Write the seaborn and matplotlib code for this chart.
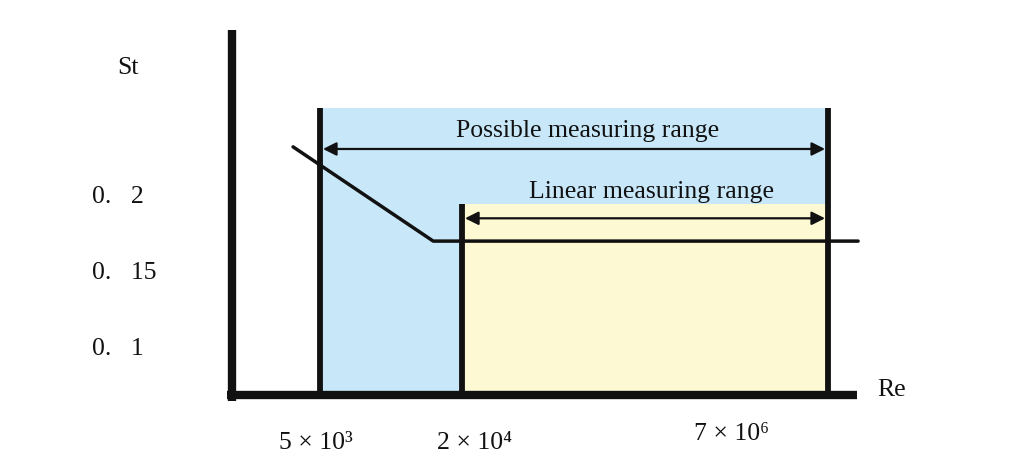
import matplotlib
matplotlib.use('Agg')
import matplotlib.pyplot as plt
import seaborn as sns
import pandas as pd

# schematic data (x in arbitrary schematic units along the Re axis)
re_labels = ['5 × 10³', '2 × 10⁴', '7 × 10⁶']
re_pos = [1.41, 3.69, 9.57]
re_label_x = [1.35, 3.90, 8.01]
re_label_y = [0.0382, 0.0382, 0.0441]

st_ticks = [0.2, 0.15, 0.1]
st_labels = ['0.   2', '0.   15', '0.   1']

curve_x = [0.98, 3.23, 10.05]
curve_y = [0.233, 0.171, 0.171]

possible_top = 0.2586
linear_top = 0.1954
possible_arrow_y = 0.2316
linear_arrow_y = 0.186
st_base = 0.0697
st_top = 0.310
re_end = 10.03

sns.set_theme(style='white')
plt.rcParams['font.family'] = ['Liberation Serif', 'DejaVu Serif']
ink = '#111111'

fig = plt.figure(figsize=(10.24, 4.74), dpi=100)
ax = fig.add_axes([0, 0, 1, 1])
ax.set_xlim(-3.724, 12.713)
ax.set_ylim(0.0178, 0.3296)
ax.axis('off')

blue = '#c8e8fa'
yellow = '#fcf9d3'

# filled ranges
ax.fill_between([re_pos[0], re_pos[2]], st_base, possible_top, color=blue, lw=0, zorder=1)
ax.fill_between([re_pos[1], re_pos[2]], st_base, linear_top, color=yellow, lw=0, zorder=2)

# range boundaries
for x, top in zip(re_pos, [possible_top, linear_top, possible_top]):
    ax.plot([x, x], [st_base, top], color=ink, lw=4.2, solid_capstyle='butt', zorder=4)

# St curve
df = pd.DataFrame({'Re': curve_x, 'St': curve_y})
sns.lineplot(data=df, x='Re', y='St', ax=ax, color=ink, lw=2.5, sort=False, zorder=5)

# axes lines
ax.plot([0, 0], [0.0660, st_top], color=ink, lw=6.0, solid_capstyle='butt', zorder=6)
ax.plot([-0.08, re_end], [st_base, st_base], color=ink, lw=6.0, solid_capstyle='butt', zorder=6)

# arrows
arr = dict(arrowstyle='<|-|>', color=ink, lw=1.6, mutation_scale=20, shrinkA=0, shrinkB=0)
ax.annotate('', xy=(re_pos[2] - 0.05, possible_arrow_y), xytext=(re_pos[0] + 0.05, possible_arrow_y),
            arrowprops=arr, zorder=7)
ax.annotate('', xy=(re_pos[2] - 0.05, linear_arrow_y), xytext=(re_pos[1] + 0.05, linear_arrow_y),
            arrowprops=arr, zorder=7)

fs = 18.5
ax.text(5.71, 0.2434, 'Possible measuring range', fontsize=fs, color=ink, ha='center', va='center', zorder=8)
ax.text(6.74, 0.2033, 'Linear measuring range', fontsize=fs, color=ink, ha='center', va='center', zorder=8)

# tick labels
for v, lab in zip(st_ticks, st_labels):
    ax.text(-2.25, v, lab, fontsize=fs, color=ink, ha='left', va='center')
ax.text(-1.67, 0.285, 'St', fontsize=fs, color=ink, ha='center', va='center')

for x, y, lab in zip(re_label_x, re_label_y, re_labels):
    ax.text(x, y, lab, fontsize=fs, color=ink, ha='center', va='center')
ax.text(10.59, 0.0730, 'Re', fontsize=fs, color=ink, ha='center', va='center')

fig.savefig('out.png', dpi=100, facecolor='white')
